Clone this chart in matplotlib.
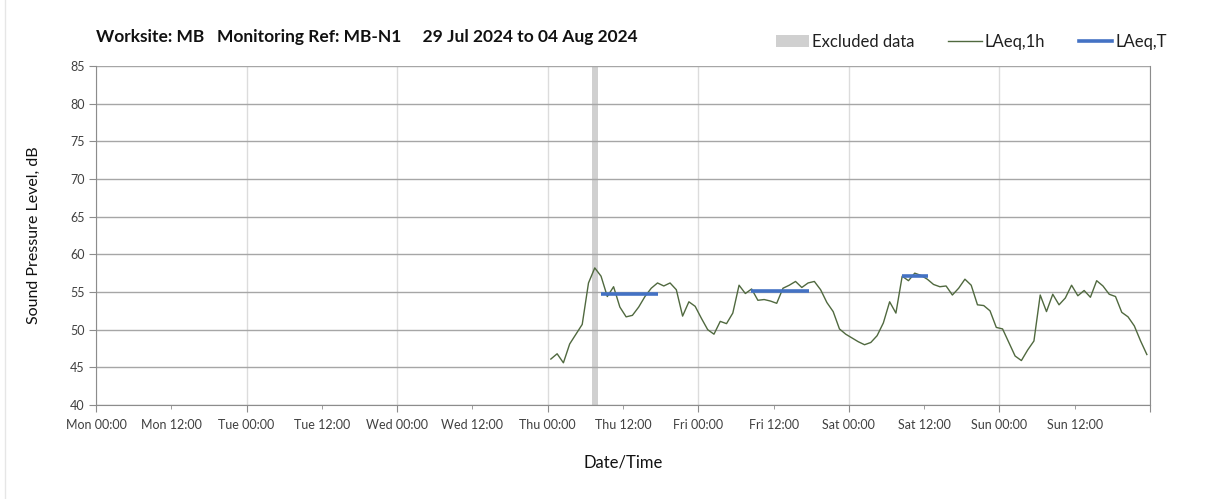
import numpy as np
import pandas as pd
import matplotlib
matplotlib.use('Agg')
import matplotlib.pyplot as plt
import matplotlib.dates as mdates
from matplotlib.patches import Patch
from matplotlib.lines import Line2D
from matplotlib.ticker import FuncFormatter

plt.rcParams['font.family'] = ['Lato', 'DejaVu Sans']

# -----------------------------------------------------------------------
# Data — hourly LAeq,1h values (Thu 00:30 to Sun 23:30)
# -----------------------------------------------------------------------
start_time = '2024-08-01 00:30'
laeq_1h = [
    46.1, 46.8, 45.6, 48.1, 49.4, 50.7, 56.2, 58.2, 57.1, 54.4, 55.7, 53.0,
    51.7, 51.9, 53.0, 54.4, 55.5, 56.2, 55.8, 56.2, 55.3, 51.8, 53.7, 53.1,
    51.5, 50.0, 49.4, 51.1, 50.8, 52.2, 55.9, 54.8, 55.4, 53.9, 54.0, 53.8,
    53.5, 55.5, 55.9, 56.4, 55.6, 56.2, 56.4, 55.3, 53.6, 52.4, 50.1, 49.4,
    48.9, 48.4, 48.0, 48.3, 49.2, 50.9, 53.7, 52.2, 57.1, 56.5, 57.5, 57.2,
    56.7, 56.0, 55.7, 55.8, 54.6, 55.5, 56.7, 55.9, 53.3, 53.2, 52.5, 50.3,
    50.1, 48.3, 46.5, 45.9, 47.3, 48.5, 54.6, 52.4, 54.7, 53.3, 54.2, 55.9,
    54.5, 55.2, 54.3, 56.5, 55.8, 54.7, 54.4, 52.3, 51.7, 50.5, 48.5, 46.7,
]
times = pd.date_range(start_time, periods=len(laeq_1h), freq='h')

# LAeq,T period levels (start, end, level)
laeq_t_start = ['2024-08-01 08:25', '2024-08-02 08:25', '2024-08-03 08:25']
laeq_t_end = ['2024-08-01 17:35', '2024-08-02 17:35', '2024-08-03 12:40']
laeq_t_level = [54.7, 55.1, 57.1]

# Excluded data window
excl_start = '2024-08-01 07:00'
excl_end = '2024-08-01 08:00'

x_start = '2024-07-29 00:00'
x_end = '2024-08-05 00:00'
y_ticks = [40, 45, 50, 55, 60, 65, 70, 75, 80, 85]

# -----------------------------------------------------------------------
# Plot
# -----------------------------------------------------------------------
fig = plt.figure(figsize=(12.08, 4.99), dpi=100)
ax = fig.add_axes([96 / 1208, 94 / 499, 1054 / 1208, 339 / 499])

line_col = '#50693f'
blue = '#4472c4'
grid_col = '#a6a6a6'

ax.axvspan(pd.Timestamp(excl_start), pd.Timestamp(excl_end),
           color='#d0d0d0', lw=0, zorder=1)
ax.plot(times, laeq_1h, color=line_col, lw=1.0, zorder=3)
for s, e, lv in zip(laeq_t_start, laeq_t_end, laeq_t_level):
    ax.plot([pd.Timestamp(s), pd.Timestamp(e)], [lv, lv], color=blue,
            lw=2.6, solid_capstyle='butt', zorder=4)

xmin, xmax = pd.Timestamp(x_start), pd.Timestamp(x_end)
ax.set_xlim(xmin, xmax)
ax.set_ylim(40, 85)
ax.set_yticks(y_ticks)

end_num = mdates.date2num(xmax)


def fmt_time(v, pos):
    # no label at the closing edge of the week
    if abs(v - end_num) < 1e-6:
        return ''
    return mdates.num2date(v).strftime('%a %H:%M')


ax.xaxis.set_major_locator(mdates.HourLocator(byhour=[0]))
ax.xaxis.set_minor_locator(mdates.HourLocator(byhour=[12]))
ax.xaxis.set_major_formatter(FuncFormatter(fmt_time))
ax.xaxis.set_minor_formatter(FuncFormatter(fmt_time))

ax.grid(axis='y', color=grid_col, lw=1.0, zorder=0)
ax.grid(axis='x', which='major', color='#dcdcdc', lw=1.0, zorder=0)

for side in ['left', 'bottom', 'right']:
    ax.spines[side].set_color('#8c8c8c')
ax.spines['top'].set_visible(False)

ax.tick_params(axis='y', labelsize=9, colors='#8c8c8c', labelcolor='#404040',
               length=5, pad=3)
ax.tick_params(axis='x', which='major', labelsize=9, colors='#8c8c8c',
               labelcolor='#404040', length=5, pad=5)
ax.tick_params(axis='x', which='minor', labelsize=9, colors='#8c8c8c',
               labelcolor='#404040', length=3, pad=7)

ax.set_ylabel('Sound Pressure Level, dB', fontsize=11.5, color='#111111',
              labelpad=21)
ax.set_xlabel('Date/Time', fontsize=12, color='#111111', labelpad=17)

fig.text(96 / 1208, 1 - 37 / 499,
         'Worksite: MB   Monitoring Ref: MB-N1     29 Jul 2024 to 04 Aug 2024',
         fontsize=12.5, fontweight='bold', va='center', ha='left', color='#111111')

handles = [
    Patch(facecolor='#d0d0d0', edgecolor='none', label='Excluded data'),
    Line2D([], [], color=line_col, lw=1.0, label='LAeq,1h'),
    Line2D([], [], color=blue, lw=2.6, label='LAeq,T'),
]
fig.legend(handles=handles, loc='center right', ncol=3, frameon=False,
           bbox_to_anchor=(1182 / 1208, 1 - 42 / 499), fontsize=12,
           handlelength=2.0, handletextpad=0.2, columnspacing=2.0,
           labelcolor='#202020')

# faint chart-area border on the left
fig.add_artist(Line2D([5 / 1208, 5 / 1208], [0, 1], color='#e6e6e6', lw=1.0))

fig.savefig('out.png', dpi=100, facecolor='white')
